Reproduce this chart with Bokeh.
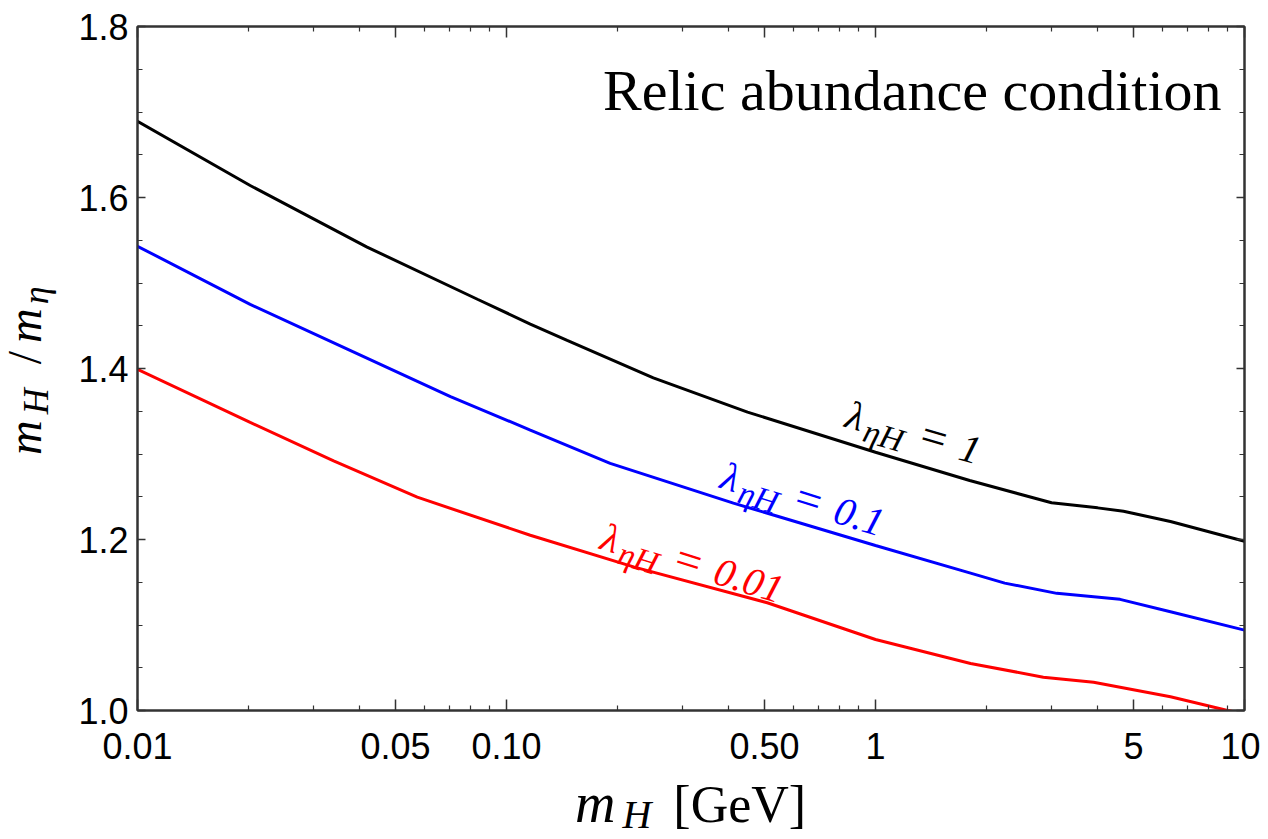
import math
from bokeh.plotting import figure
from bokeh.models import (LogAxis, LinearAxis, FixedTicker, CustomJSTickFormatter,
                          Range1d, Label, Div)
from bokeh.layouts import row, column
from bokeh.embed import file_html
from bokeh.resources import INLINE

# ---------------- data ----------------
m_H_black = [0.01, 0.0202, 0.0419, 0.0834, 0.116, 0.146, 0.25, 0.45, 1.0, 1.8, 3.0, 4.0, 4.7, 6.3, 10.0]
ratio_black = [1.689, 1.614, 1.542, 1.481, 1.452, 1.433, 1.389, 1.349, 1.302, 1.269, 1.243, 1.237, 1.233, 1.221, 1.198]

m_H_blue = [0.01, 0.0202, 0.0378, 0.0705, 0.116, 0.191, 0.412, 1.0, 1.8, 2.24, 3.1, 4.6, 6.3, 10.0]
ratio_blue = [1.543, 1.475, 1.421, 1.367, 1.328, 1.289, 1.2425, 1.193, 1.161, 1.149, 1.137, 1.130, 1.1155, 1.094]

m_H_red = [0.01, 0.0202, 0.034, 0.0573, 0.116, 0.221, 0.509, 1.0, 1.81, 2.85, 3.9, 6.3, 9.0, 10.0]
ratio_red = [1.399, 1.337, 1.292, 1.2495, 1.205, 1.168, 1.126, 1.083, 1.055, 1.039, 1.033, 1.016, 1.0, 0.996]

x_major = [0.01, 0.05, 0.1, 0.5, 1, 5, 10]
x_major_labels = ["0.01", "0.05", "0.10", "0.50", "1", "5", "10"]
x_minor = [d * m for d in (0.01, 0.1, 1) for m in (2, 3, 4, 6, 7, 8, 9)]
y_major = [1.0, 1.2, 1.4, 1.6, 1.8]
y_major_labels = ["1.0", "1.2", "1.4", "1.6", "1.8"]
y_minor = [round(1.0 + 0.05 * i, 2) for i in range(17)]

series = [
    (m_H_black, ratio_black, "#000000", "1"),
    (m_H_blue, ratio_blue, "#0000FF", "0.1"),
    (m_H_red, ratio_red, "#FF0000", "0.01"),
]

# ---------------- layout geometry ----------------
FL, FT, FW, FH = 137, 26, 1107, 684   # frame in page pixels
YW = 60                               # width of the y-label column
XH = 60                               # height of the x-label row
BOT = 64                              # figure border below frame
FIG_W = (FL - YW) + FW + 16
FIG_H = FT + FH + BOT

p = figure(x_axis_type="log", x_range=Range1d(0.01, 10), y_range=Range1d(1.0, 1.8),
           frame_width=FW, frame_height=FH,
           min_border_left=FL - YW, min_border_right=16, min_border_top=FT,
           min_border_bottom=BOT,
           output_backend="svg", toolbar_location=None)
p.xgrid.visible = False
p.ygrid.visible = False
p.outline_line_color = "#333333"
p.outline_line_width = 2
p.background_fill_color = "white"
p.border_fill_color = "white"

for xs, ys, col, _ in series:
    p.line(xs, ys, line_color=col, line_width=3)

xt = FixedTicker(ticks=x_major, minor_ticks=x_minor)
yt = FixedTicker(ticks=y_major, minor_ticks=y_minor)

x_fmt = CustomJSTickFormatter(args=dict(vals=x_major, labs=x_major_labels), code="""
    for (let i = 0; i < vals.length; i++) {
        if (Math.abs(tick - vals[i]) / vals[i] < 1e-6) return labs[i];
    }
    return '';
""")
y_fmt = CustomJSTickFormatter(args=dict(vals=y_major, labs=y_major_labels), code="""
    for (let i = 0; i < vals.length; i++) {
        if (Math.abs(tick - vals[i]) < 1e-6) return labs[i];
    }
    return '';
""")
blank = CustomJSTickFormatter(code="return '';")


def style_axis(ax, major_in, minor_in):
    ax.axis_line_color = "#333333"
    ax.axis_line_width = 2
    ax.major_tick_line_color = "#333333"
    ax.minor_tick_line_color = "#333333"
    ax.major_tick_line_width = 1.5
    ax.minor_tick_line_width = 1.2
    ax.major_tick_in = major_in
    ax.major_tick_out = 0
    ax.minor_tick_in = minor_in
    ax.minor_tick_out = 0
    ax.major_label_text_font = "Liberation Sans"
    ax.major_label_text_font_size = "36px"
    ax.major_label_text_color = "#000000"


xa = p.xaxis[0]
xa.ticker = xt
xa.formatter = x_fmt
style_axis(xa, 11, 5)
xa.major_label_standoff = 22

ya = p.yaxis[0]
ya.ticker = yt
ya.formatter = y_fmt
style_axis(ya, 8, 5)
ya.major_label_standoff = 9

top = LogAxis(ticker=xt, formatter=blank)
style_axis(top, 11, 5)
top.major_label_text_font_size = "1px"
p.add_layout(top, "above")

right = LinearAxis(ticker=yt, formatter=blank)
style_axis(right, 8, 5)
right.major_label_text_font_size = "1px"
p.add_layout(right, "right")


# ---------------- in-frame text ----------------
def px_x(px):
    return 10 ** (-2 + 3 * (px - FL) / FW)


def py_y(py):
    return 1.8 - 0.8 * (py - FT) / FH


BASE_FIX = 0.34  # Label's anchor sits ~0.34 em above the drawn baseline


def add_pieces(x0, y0, angle, pieces, color, font="Liberation Serif"):
    c, s = math.cos(angle), math.sin(angle)
    for text, adv, shift, size, style in pieces:
        sh = shift + BASE_FIX * size
        dx = adv * c - sh * s
        dy = adv * s + sh * c
        px, py = x0 + dx, y0 - dy
        p.add_layout(Label(x=px_x(px), y=py_y(py), text=text, angle=angle,
                           text_font=font, text_font_size=f"{size}px",
                           text_font_style=style, text_color=color,
                           text_align="left", text_baseline="alphabetic"))


label_pos = [(843, 426, -0.285), (718, 487, -0.30), (598, 548, -0.30)]
for (xs, ys, col, lam), (x0, y0, ang) in zip(series, label_pos):
    add_pieces(x0, y0, ang, [
        ("λ", 0, 0, 40, "italic"),
        ("ηH", 21, -9, 33, "italic"),
        ("=", 77, 0, 46, "normal"),
        (lam, 118, 0, 40, "italic"),
    ], col)

TITLE_F = 58
p.add_layout(Label(x=px_x(1221), y=py_y(110 - BASE_FIX * TITLE_F),
                   text="Relic abundance condition",
                   text_font="Liberation Serif", text_font_size=f"{TITLE_F}px",
                   text_align="right", text_baseline="alphabetic", text_color="#000000"))

# ---------------- axis titles (HTML, with real sub-scripts) ----------------
SERIF = "'Liberation Serif', 'DejaVu Serif', serif"

XF = 56
x_base = 822 - FIG_H                 # baseline inside the x-label row
x_top = x_base - 0.8375 * XF
x_left = 575 - YW
xlab_html = (
    f'<div style="position:relative;width:{FIG_W}px;height:{XH}px;">'
    f'<span style="position:absolute;left:{x_left}px;top:{x_top:.1f}px;white-space:nowrap;'
    f'font-family:{SERIF};font-size:{XF}px;line-height:{XF}px;color:#000;">'
    f'<i>m</i><i style="font-size:40px;position:relative;top:6px;margin-left:7px;">H</i>'
    f'<span style="font-size:52px;margin-left:22px;">[GeV]</span></span></div>'
)
xdiv = Div(text=xlab_html, width=FIG_W, height=XH, margin=0,
           styles={"overflow": "visible"})

YF = 48
YLH = 36
y_left = 41 - (YLH / 2 + 0.3375 * YF)
ylab_html = (
    f'<div style="position:relative;width:{YW}px;height:{FIG_H + XH}px;">'
    f'<span style="position:absolute;left:{y_left:.1f}px;top:455px;white-space:nowrap;'
    f'transform-origin:0 0;transform:rotate(-90deg);'
    f'font-family:{SERIF};font-size:{YF}px;line-height:{YLH}px;color:#000;">'
    f'<i>m</i><i style="font-size:36px;position:relative;top:7px;margin-left:6px;">H</i>'
    f'<span style="margin-left:24px;">/</span>'
    f'<i style="margin-left:8px;">m</i>'
    f'<i style="font-size:36px;position:relative;top:7px;margin-left:4px;">η</i></span></div>'
)
ydiv = Div(text=ylab_html, width=YW, height=FIG_H + XH, margin=0,
           styles={"overflow": "visible"})

layout = row(ydiv, column(p, xdiv, spacing=0), spacing=0)

open("out.html", "w").write(file_html(layout, INLINE))
